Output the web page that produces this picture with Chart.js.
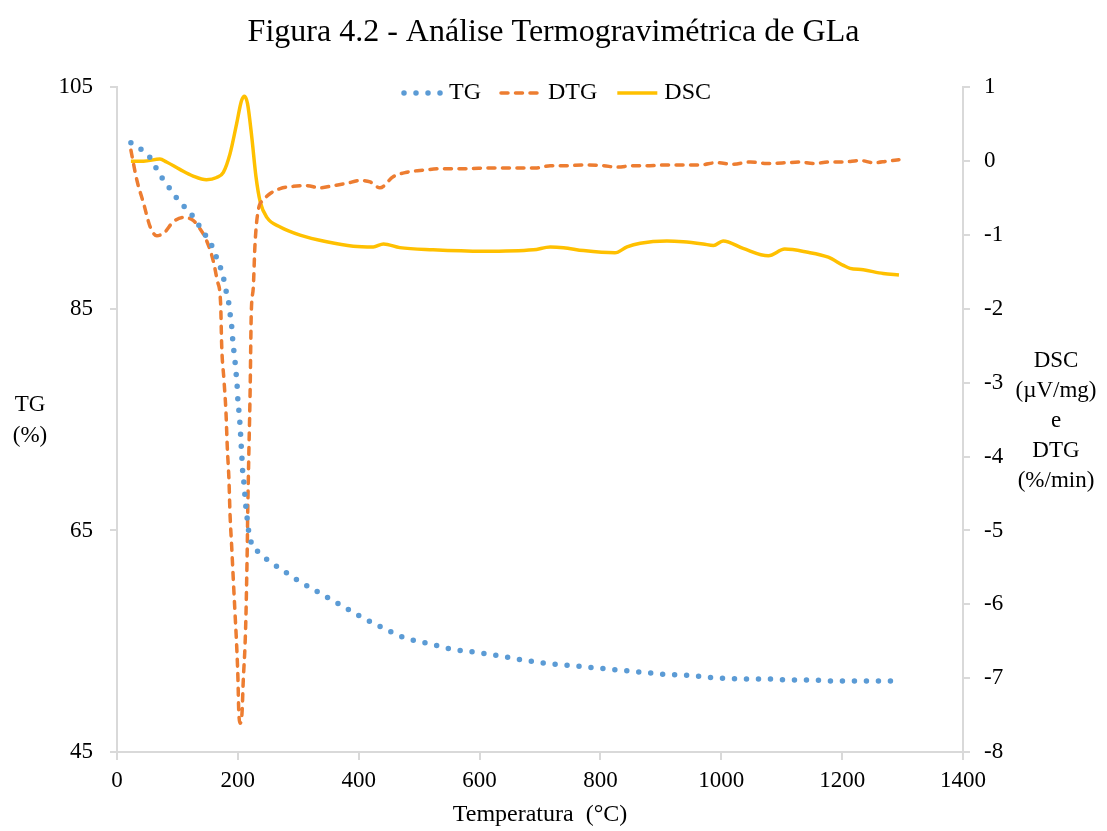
<!DOCTYPE html>
<html>
<head>
<meta charset="utf-8">
<script src="https://cdn.jsdelivr.net/npm/chart.js@4/dist/chart.umd.min.js"></script>
<style>
html,body{margin:0;background:#fff}
#wrap{width:1107px;height:831px}
</style>
</head>
<body>
<div id="wrap"><canvas id="chart"></canvas></div>
<script>
// temperatures (°C) and values
const tgTemp=[23,40,54,65,75,87,99,112,125,136,147,157,165,172,177,181,185,187.5,190,191.5,193.6,195.8,197.4,199,200,201.9,203.5,204.7,205.7,206.9,208,210.2,211.8,213.5,215.6,218,222.9,235,250,266,282.5,299,334,369,404,440,476,515,553,593,632,672,712,751,791,830,870,910,950,990,1030,1070,1110,1150,1190,1230,1270,1289];
const tgVal=[100.0,99.4,98.7,97.7,96.8,95.9,95.0,94.2,93.4,92.5,91.6,90.7,89.6,88.6,87.6,86.5,85.5,84.4,83.3,82.2,81.1,80.0,79.0,77.9,76.8,75.7,74.6,73.5,72.5,71.4,70.3,69.2,68.1,67.0,66.0,64.9,63.8,63.0,62.3,61.7,61.1,60.5,59.4,58.3,57.2,56.2,55.3,54.8,54.3,54.0,53.7,53.3,53.0,52.8,52.6,52.4,52.2,52.0,51.9,51.7,51.6,51.6,51.5,51.5,51.4,51.4,51.4,51.4];

const dtgTemp=[23,33,44,55,66,79,93,110,126,137,148,159,166,171.5,173.3,177,180.4,182.5,185.3,187,189.8,192.5,195.3,198.1,200.2,201.4,203.5,206.9,209,211.8,213.5,214.6,215.6,216.3,217.3,218.4,219.6,220.6,221.3,222.2,225.6,228.4,233.8,242,253,270,292,314,336,358,380,402,419,435,457,479,507,540,579,617,661,695,717,744,772,805,827,854,882,910,937,965,992,1020,1048,1075,1108,1130,1152,1180,1202,1230,1252,1274,1294];
const dtgVal=[0.15,-0.26,-0.57,-0.89,-1.01,-0.96,-0.82,-0.76,-0.80,-0.91,-1.07,-1.34,-1.62,-1.93,-2.51,-2.96,-3.41,-3.87,-4.32,-4.77,-5.22,-5.67,-6.12,-6.57,-7.02,-7.43,-7.61,-7.47,-7.02,-6.57,-6.12,-5.67,-5.22,-4.77,-4.32,-3.87,-3.42,-2.96,-2.51,-2.06,-1.70,-1.12,-0.66,-0.53,-0.44,-0.37,-0.34,-0.33,-0.36,-0.33,-0.30,-0.26,-0.28,-0.36,-0.21,-0.15,-0.12,-0.10,-0.10,-0.09,-0.09,-0.09,-0.06,-0.06,-0.05,-0.06,-0.08,-0.06,-0.06,-0.05,-0.05,-0.05,-0.02,-0.04,-0.01,-0.03,-0.02,-0.01,-0.03,-0.01,-0.01,0.01,-0.02,0.00,0.02];

const dscTemp=[23,44,71,82,104,126,148,165,176,187,198,206,211,216,223,230,237,248,270,303,347,391,424,441,468,523,606,689,717,739,772,824,844,866,910,937,970,987,1003,1036,1078,1105,1141,1177,1202,1213,1235,1268,1294];
const dscVal=[0.00,0.00,0.03,-0.01,-0.11,-0.20,-0.25,-0.22,-0.15,0.10,0.51,0.82,0.88,0.78,0.33,-0.21,-0.55,-0.76,-0.89,-1.00,-1.09,-1.15,-1.16,-1.12,-1.17,-1.20,-1.22,-1.20,-1.16,-1.17,-1.21,-1.24,-1.16,-1.11,-1.08,-1.09,-1.12,-1.14,-1.08,-1.18,-1.28,-1.19,-1.23,-1.30,-1.41,-1.45,-1.47,-1.52,-1.54];

const titleText="Figura 4.2 - Análise Termogravimétrica de GLa";
const xTitle="Temperatura  (°C)";
const leftTitle=["TG","(%)"];
const rightTitle=["DSC","(µV/mg)","e","DTG","(%/min)"];

const serif='"Liberation Serif","Times New Roman",serif';
Chart.defaults.color="#000";
Chart.defaults.font.family=serif;

function pts(t,v){
return t.map((x,i)=>({x:x,y:v[i]}));
}

// horizontal axis titles at both sides
const sideTitles={
id:"sideTitles",
afterDraw(c){
const ctx=c.ctx;
ctx.save();
ctx.font="23px "+serif;
ctx.fillStyle="#000";
ctx.textAlign="center";
ctx.textBaseline="middle";
leftTitle.forEach((s,i)=>ctx.fillText(s,30,405+i*31));
rightTitle.forEach((s,i)=>ctx.fillText(s,1056,361+i*30));
ctx.restore();
}
};

// one-row legend inside the top of the plot, drawn from the datasets
const topLegend={
id:"topLegend",
afterDraw(c){
const ctx=c.ctx;
let x=402;const y=93;
ctx.save();
ctx.font="24px "+serif;
ctx.textBaseline="middle";
c.data.datasets.forEach(d=>{
ctx.strokeStyle=d.borderColor;
ctx.lineWidth=d.borderWidth;
ctx.lineCap=d.borderCapStyle||"butt";
ctx.setLineDash(d.borderDash||[]);
ctx.beginPath();
ctx.moveTo(x+(d.borderDash&&d.borderDash[0]===0?2:0),y);
ctx.lineTo(x+40,y);
ctx.stroke();
ctx.setLineDash([]);
ctx.fillStyle="#000";
ctx.fillText(d.label,x+47,y);
x+=47+ctx.measureText(d.label).width+20;
});
ctx.restore();
}
};

const grey="#d9d9d9";

new Chart(document.getElementById("chart"),{
type:"line",
data:{
datasets:[
{label:"TG",data:pts(tgTemp,tgVal),yAxisID:"y",borderColor:"#5B9BD5",backgroundColor:"#5B9BD5",borderWidth:5.5,borderDash:[0,12],borderCapStyle:"round",pointRadius:0,cubicInterpolationMode:"monotone"},
{label:"DTG",data:pts(dtgTemp,dtgVal),yAxisID:"y2",borderColor:"#ED7D31",backgroundColor:"#ED7D31",borderWidth:3.5,borderDash:[7,7.5],borderCapStyle:"round",pointRadius:0,cubicInterpolationMode:"monotone"},
{label:"DSC",data:pts(dscTemp,dscVal),yAxisID:"y2",borderColor:"#FFC000",backgroundColor:"#FFC000",borderWidth:3.5,pointRadius:0,cubicInterpolationMode:"monotone"}
]
},
options:{
responsive:true,
maintainAspectRatio:false,
animation:false,
layout:{padding:0},
plugins:{
title:{display:true,text:titleText,color:"#000",font:{size:32,weight:"normal"},padding:{top:13,bottom:36}},
legend:{display:false},
tooltip:{enabled:false}
},
scales:{
x:{type:"linear",min:0,max:1400,
ticks:{stepSize:200,font:{size:23},padding:7,callback:v=>String(v)},
grid:{drawOnChartArea:false,tickLength:8,color:grey,lineWidth:2},
border:{color:grey,width:2},
title:{display:true,text:xTitle,font:{size:24},padding:{top:0,bottom:2}},
afterFit(s){s.height=79;}
},
y:{position:"left",min:45,max:105,
ticks:{stepSize:20,font:{size:23},padding:17},
grid:{drawOnChartArea:false,tickLength:7,color:grey,lineWidth:2},
border:{color:grey,width:2},
afterFit(s){s.width=117;}
},
y2:{position:"right",min:-8,max:1,
ticks:{stepSize:1,font:{size:23},padding:14},
grid:{drawOnChartArea:false,tickLength:7,color:grey,lineWidth:2},
border:{color:grey,width:2},
afterFit(s){s.width=144;}
}
}
},
plugins:[sideTitles,topLegend]
});
</script>
</body>
</html>
